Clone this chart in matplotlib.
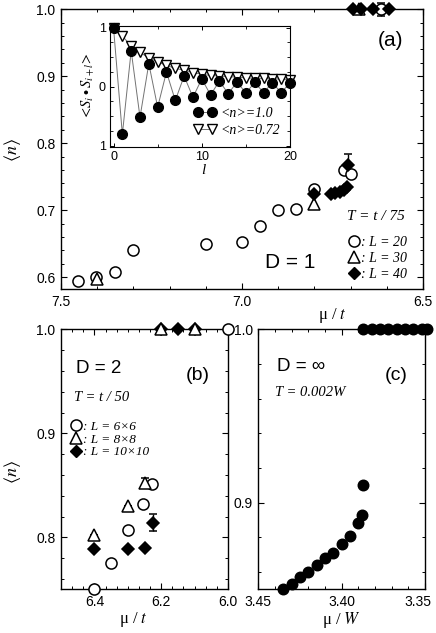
"""Filling <n> vs chemical potential for D = 1, 2, infinity (three panels + inset)."""

import matplotlib

matplotlib.use("Agg")
import matplotlib.pyplot as plt  # noqa: E402
from matplotlib.lines import Line2D  # noqa: E402
from matplotlib.ticker import FormatStrFormatter, MultipleLocator  # noqa: E402
from matplotlib.transforms import ScaledTranslation  # noqa: E402

plt.rcParams["font.family"] = ["Liberation Sans", "DejaVu Sans"]
plt.rcParams["mathtext.fontset"] = "stix"
plt.rcParams["xtick.direction"] = "in"
plt.rcParams["ytick.direction"] = "in"
plt.rcParams["xtick.top"] = True
plt.rcParams["ytick.right"] = True
plt.rcParams["axes.linewidth"] = 1.0

SERIF_IT = {"family": "Liberation Serif", "style": "italic"}

# ---- panel (a): D = 1, T = t/75 ----
a_circ_mu = [7.452, 7.402, 7.351, 7.300, 7.100, 7.000, 6.950, 6.900, 6.850, 6.802, 6.719, 6.700, 6.617]
a_circ_n = [0.595, 0.601, 0.608, 0.640, 0.650, 0.652, 0.676, 0.700, 0.702, 0.731, 0.760, 0.754, 1.0]
a_circ_err = [0, 0, 0, 0, 0, 0, 0, 0, 0, 0, 0, 0.006, 0.010]
a_tri_mu = [7.400, 6.802, 6.678]
a_tri_n = [0.598, 0.710, 1.0]
a_dia_mu = [6.800, 6.755, 6.742, 6.730, 6.719, 6.709, 6.706, 6.693, 6.672, 6.639, 6.595]
a_dia_n = [0.725, 0.725, 0.726, 0.727, 0.730, 0.735, 0.768, 1.0, 1.0, 1.0, 1.0]
a_dia_err = [0, 0, 0, 0, 0, 0, 0.016, 0, 0, 0, 0]

# ---- inset: spin correlation vs distance l ----
inset_l = list(range(21))
corr_half = [1.0, -0.81, 0.61, -0.52, 0.39, -0.35, 0.25, -0.235, 0.18, -0.18, 0.13,
             -0.14, 0.095, -0.12, 0.08, -0.11, 0.072, -0.10, 0.063, -0.10, 0.062]
corr_072 = [1.0, 0.86, 0.69, 0.58, 0.49, 0.42, 0.36, 0.31, 0.28, 0.24, 0.21,
            0.19, 0.18, 0.17, 0.16, 0.15, 0.14, 0.14, 0.13, 0.13, 0.12]

# ---- panel (b): D = 2, T = t/50 ----
b_circ_mu = [6.40, 6.35, 6.30, 6.253, 6.228, 6.00]
b_circ_n = [0.750, 0.775, 0.807, 0.832, 0.851, 1.0]
b_tri_mu = [6.40, 6.30, 6.25, 6.20, 6.10]
b_tri_n = [0.802, 0.830, 0.852, 1.0, 1.0]
b_tri_err = [0, 0, 0.005, 0, 0]
b_dia_mu = [6.40, 6.30, 6.25, 6.225, 6.20, 6.15, 6.10]
b_dia_n = [0.789, 0.789, 0.790, 0.814, 1.0, 1.0, 1.0]
b_dia_err = [0, 0, 0, 0.008, 0, 0, 0]

# ---- panel (c): D = infinity, T = 0.002W ----
c_mu = [3.435, 3.430, 3.425, 3.420, 3.415, 3.410, 3.405, 3.400, 3.395, 3.390, 3.388, 3.387,
        3.387, 3.382, 3.377, 3.372, 3.367, 3.362, 3.357, 3.352, 3.3486]
c_n = [0.850, 0.853, 0.857, 0.860, 0.864, 0.868, 0.871, 0.876, 0.881, 0.888, 0.893, 0.910,
       1.0, 1.0, 1.0, 1.0, 1.0, 1.0, 1.0, 1.0, 1.0]
c_xticks = [3.45, 3.40, 3.35]

FIG_W, FIG_H = 436, 633


def rect(x0, y0, x1, y1):
    return [x0 / FIG_W, 1 - y1 / FIG_H, (x1 - x0) / FIG_W, (y1 - y0) / FIG_H]


def ticks(ax, major_x, minor_x, major_y, minor_y, xfmt, yfmt):
    ax.xaxis.set_major_locator(MultipleLocator(major_x))
    ax.xaxis.set_minor_locator(MultipleLocator(minor_x))
    ax.yaxis.set_major_locator(MultipleLocator(major_y))
    ax.yaxis.set_minor_locator(MultipleLocator(minor_y))
    ax.xaxis.set_major_formatter(FormatStrFormatter(xfmt))
    ax.yaxis.set_major_formatter(FormatStrFormatter(yfmt))
    ax.tick_params(which="major", length=4, width=0.8, labelsize=10, pad=4)
    ax.tick_params(which="minor", length=2.5, width=0.7)
    ax.tick_params(which="both", top=True, right=True)


def pts(ax, x, y, marker, filled, ms=8, err=None):
    fc = "black" if filled else "white"
    ax.errorbar(x, y, yerr=err, fmt=marker, ms=ms, mfc=fc, mec="black", mew=1.1,
                ecolor="black", elinewidth=1.0, capsize=3, clip_on=False, zorder=3)


fig = plt.figure(figsize=(FIG_W / 100, FIG_H / 100), dpi=100)

# ---------------- (a) ----------------
ax_a = fig.add_axes(rect(61, 9.3, 423, 289.3))
pts(ax_a, a_circ_mu, a_circ_n, "o", False, ms=8, err=a_circ_err)
pts(ax_a, a_tri_mu, a_tri_n, "^", False, ms=8.5)
pts(ax_a, a_dia_mu, a_dia_n, "D", True, ms=6.5, err=a_dia_err)
ax_a.set_xlim(7.5, 6.5)
ax_a.set_ylim(0.582, 1.0)
ticks(ax_a, 0.5, 0.1, 0.1, 0.02, "%.1f", "%.1f")
ax_a.set_ylabel(r"$\langle n\rangle$", fontsize=13)
ax_a.yaxis.set_label_coords(-0.104, 0.497)
ax_a.set_xlabel(r"μ / $t$", fontsize=12, family="Liberation Serif")
ax_a.xaxis.set_label_coords(0.75, -0.058)
ax_a.text(0.909, 0.89, "(a)", transform=ax_a.transAxes, fontsize=15, ha="center", va="center")
ax_a.text(0.633, 0.097, "D = 1", transform=ax_a.transAxes, fontsize=15, ha="center", va="center")
ax_a.text(0.79, 0.26, "T = t / 75", transform=ax_a.transAxes, fontsize=11, ha="left",
          va="center", **SERIF_IT)
hd_a = [Line2D([], [], ls="none", marker="o", ms=8, mfc="white", mec="k", mew=1.1),
        Line2D([], [], ls="none", marker="^", ms=8.5, mfc="white", mec="k", mew=1.1),
        Line2D([], [], ls="none", marker="D", ms=6.5, mfc="black", mec="k")]
ax_a.legend(hd_a, [": L = 20", ": L = 30", ": L = 40"], loc="upper left",
            bbox_to_anchor=(0.775, 0.215), frameon=False, handlelength=0.8, handletextpad=0.1,
            labelspacing=0.2, borderpad=0, prop={**SERIF_IT, "size": 10})

# ---------------- inset ----------------
ax_in = fig.add_axes(rect(110, 26, 290, 146.7))
ax_in.plot(inset_l, corr_072, "-v", color="0.45", lw=0.7, ms=7.5, mfc="white", mec="black",
           mew=1.0, clip_on=False, label="<n>=0.72")
ax_in.plot(inset_l, corr_half, "-o", color="0.45", lw=0.7, ms=7, mfc="black", mec="black",
           clip_on=False, label="<n>=1.0")
ax_in.set_xlim(-0.4, 20)
ax_in.set_ylim(-1.02, 1.03)
ax_in.set_xticks([0, 10, 20])
ax_in.xaxis.set_minor_locator(MultipleLocator(5))
ax_in.set_yticks([-1, 0, 1], labels=["1", "0", "1"])
ax_in.yaxis.set_minor_locator(MultipleLocator(0.25))
ax_in.tick_params(which="major", length=3, width=0.7, labelsize=9, pad=3)
ax_in.tick_params(which="minor", length=2, width=0.6)
ax_in.tick_params(which="both", top=True, right=True)
for sp in ax_in.spines.values():
    sp.set_linewidth(0.8)
ax_in.set_xlabel("l", fontsize=11, **SERIF_IT)
ax_in.xaxis.set_label_coords(0.52, -0.14)
ax_in.set_ylabel(r"$<\!S_i\bullet S_{i+l}\!>$", fontsize=10.5, labelpad=1)
h, lab = ax_in.get_legend_handles_labels()
ax_in.legend(h[::-1], lab[::-1], loc="lower right", frameon=False, numpoints=2, handlelength=1.6,
             handletextpad=0.3, labelspacing=0.3, borderpad=0.2, prop={**SERIF_IT, "size": 10})

# ---------------- (b) ----------------
ax_b = fig.add_axes(rect(61, 329.3, 228, 589.3))
pts(ax_b, b_circ_mu, b_circ_n, "o", False, ms=8)
pts(ax_b, b_dia_mu, b_dia_n, "D", True, ms=6.5, err=b_dia_err)
pts(ax_b, b_tri_mu, b_tri_n, "^", False, ms=8.5, err=b_tri_err)
ax_b.set_xlim(6.5, 6.0)
ax_b.set_ylim(0.75, 1.0)
ticks(ax_b, 0.2, 0.1 / 3, 0.1, 0.02, "%.1f", "%.1f")
ax_b.set_ylabel(r"$\langle n\rangle$", fontsize=13)
ax_b.yaxis.set_label_coords(-0.226, 0.45)
ax_b.set_xlabel(r"μ / $t$", fontsize=12, family="Liberation Serif")
ax_b.xaxis.set_label_coords(0.433, -0.078)
ax_b.text(0.223, 0.85, "D = 2", transform=ax_b.transAxes, fontsize=13.5, ha="center", va="center")
ax_b.text(0.816, 0.824, "(b)", transform=ax_b.transAxes, fontsize=14, ha="center", va="center")
ax_b.text(0.078, 0.737, "T = t / 50", transform=ax_b.transAxes, fontsize=10.5, ha="left",
          va="center", **SERIF_IT)
hd_b = [Line2D([], [], ls="none", marker="o", ms=8, mfc="white", mec="k", mew=1.1),
        Line2D([], [], ls="none", marker="^", ms=8.5, mfc="white", mec="k", mew=1.1),
        Line2D([], [], ls="none", marker="D", ms=6.5, mfc="black", mec="k")]
ax_b.legend(hd_b, [": L = 6×6", ": L = 8×8", ": L = 10×10"], loc="upper left",
            bbox_to_anchor=(0.02, 0.675), frameon=False, handlelength=0.8, handletextpad=0.1,
            labelspacing=0.05, borderpad=0, prop={**SERIF_IT, "size": 9.5})

# ---------------- (c) ----------------
ax_c = fig.add_axes(rect(258.3, 329.3, 425, 589.3))
pts(ax_c, c_mu, c_n, "o", True, ms=7.5)
ax_c.set_xlim(3.45, 3.35)
ax_c.set_ylim(0.85, 1.0)
ticks(ax_c, 0.05, 0.01, 0.1, 0.02, "%.2f", "%.1f")
ax_c.set_xticks(c_xticks)
# nudge the last tick label left so it stays inside the figure, as in the reference
last = ax_c.xaxis.get_major_ticks()[-1].label1
last.set_transform(last.get_transform() + ScaledTranslation(-0.07, 0, fig.dpi_scale_trans))
ax_c.set_xlabel(r"μ / $W$", fontsize=12, family="Liberation Serif")
ax_c.xaxis.set_label_coords(0.5, -0.078)
ax_c.text(0.254, 0.856, "D = ∞", transform=ax_c.transAxes, fontsize=13.5, ha="center",
          va="center", family=["Liberation Sans", "DejaVu Sans"])
ax_c.text(0.83, 0.824, "(c)", transform=ax_c.transAxes, fontsize=14, ha="center", va="center")
ax_c.text(0.10, 0.756, "T = 0.002W", transform=ax_c.transAxes, fontsize=10.5, ha="left",
          va="center", **SERIF_IT)

fig.savefig("out.png", dpi=100)
